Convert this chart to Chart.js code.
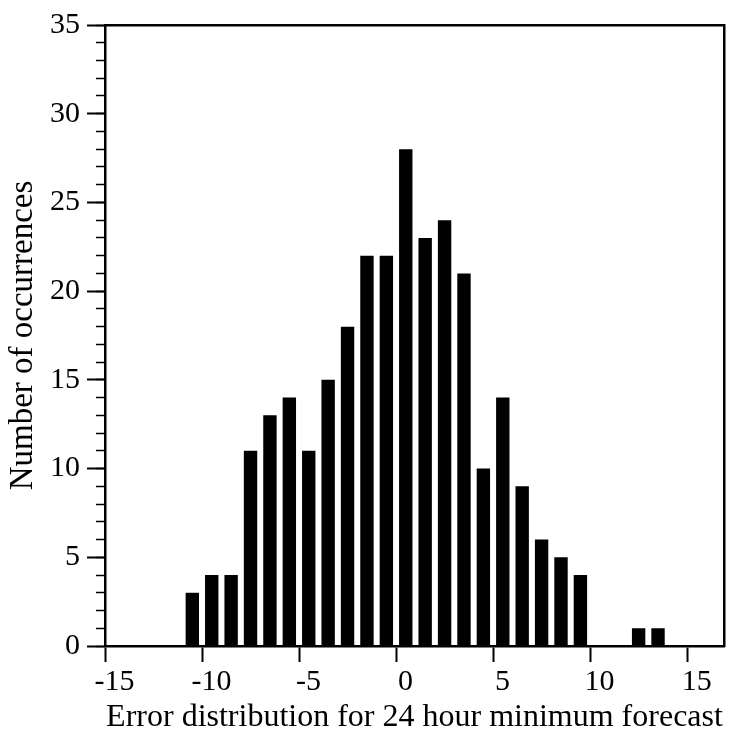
<!DOCTYPE html>
<html>
<head>
<meta charset="utf-8">
<script src="https://cdn.jsdelivr.net/npm/chart.js@4/dist/chart.umd.min.js"></script>
<style>
  html, body { margin: 0; padding: 0; background: #ffffff; }
  #wrap { width: 737px; height: 737px; }
</style>
</head>
<body>
<div id="wrap"><canvas id="c" width="737" height="737"></canvas></div>
<script>
// Error bin centres (degrees) and number of occurrences
const binCenters = [-10.5, -9.5, -8.5, -7.5, -6.5, -5.5, -4.5, -3.5, -2.5, -1.5, -0.5,
                     0.5, 1.5, 2.5, 3.5, 4.5, 5.5, 6.5, 7.5, 8.5, 9.5, 12.5, 13.5];
const counts     = [3, 4, 4, 11, 13, 14, 11, 15, 18, 22, 22,
                    28, 23, 24, 21, 10, 14, 9, 6, 5, 4, 1, 1];
const xTickValues = [-15, -10, -5, 0, 5, 10, 15];
const yTickValues = [0, 5, 10, 15, 20, 25, 30, 35];
const xTitle = 'Error distribution for 24 hour minimum forecast';
const yTitle = 'Number of occurrences';

const points = binCenters.map((x, i) => ({ x: x, y: counts[i] }));

const FONT = 'Liberation Serif, Times New Roman, serif';
const X_MIN = -15, X_MAX = 16.9, Y_MIN = 0, Y_MAX = 35;

Chart.defaults.font.family = FONT;
Chart.defaults.color = '#000';

new Chart(document.getElementById('c'), {
  type: 'bar',
  data: {
    datasets: [{
      data: points,
      backgroundColor: '#000',
      borderWidth: 0,
      barPercentage: 0.69,
      categoryPercentage: 1.0
    }]
  },
  options: {
    responsive: false,
    animation: false,
    devicePixelRatio: 1,
    layout: { padding: { left: 0, top: 20, right: 13, bottom: 0 } },
    plugins: { legend: { display: false }, tooltip: { enabled: false } },
    scales: {
      x: {
        type: 'linear',
        position: 'bottom',
        min: X_MIN, max: X_MAX,
        offset: false,
        afterFit: s => { s.height = 91; },
        afterBuildTicks: s => { s.ticks = xTickValues.map(v => ({ value: v })); },
        ticks: {
          font: { size: 30 }, color: '#000', padding: 2,
          labelOffset: 9.5, maxRotation: 0, autoSkip: false,
          includeBounds: false
        },
        grid: { offset: false, drawOnChartArea: false, tickLength: 16, tickWidth: 2, tickColor: '#000' },
        border: { display: true, color: '#000', width: 2.5 },
        title: { display: true, text: xTitle, font: { size: 32 }, color: '#000', padding: { top: 0, bottom: 0 } }
      },
      y: {
        type: 'linear',
        position: 'left',
        weight: 1,
        min: Y_MIN, max: Y_MAX,
        afterFit: s => { s.width = 105; },
        afterBuildTicks: s => { s.ticks = yTickValues.map(v => ({ value: v })); },
        ticks: { font: { size: 30 }, color: '#000', padding: 7 },
        grid: { drawOnChartArea: false, tickLength: 18, tickWidth: 2, tickColor: '#000' },
        border: { display: true, color: '#000', width: 2.5 },
        title: { display: true, text: yTitle, font: { size: 33 }, color: '#000', padding: { top: 4, bottom: 0 } }
      },
      yMinor: {
        type: 'linear',
        position: 'left',
        weight: 0,
        min: Y_MIN, max: Y_MAX,
        afterFit: s => { s.width = 0; },
        ticks: { display: false, stepSize: 1 },
        grid: { drawOnChartArea: false, tickLength: 9, tickWidth: 1.5, tickColor: '#000' },
        border: { display: false }
      },
      xTop: {
        type: 'linear',
        position: 'top',
        min: X_MIN, max: X_MAX,
        afterFit: s => { s.height = 0; },
        ticks: { display: false },
        grid: { display: false },
        border: { display: true, color: '#000', width: 2.5 }
      },
      yRight: {
        type: 'linear',
        position: 'right',
        min: Y_MIN, max: Y_MAX,
        afterFit: s => { s.width = 0; },
        ticks: { display: false },
        grid: { display: false },
        border: { display: true, color: '#000', width: 2.5 }
      }
    }
  }
});
</script>
</body>
</html>
